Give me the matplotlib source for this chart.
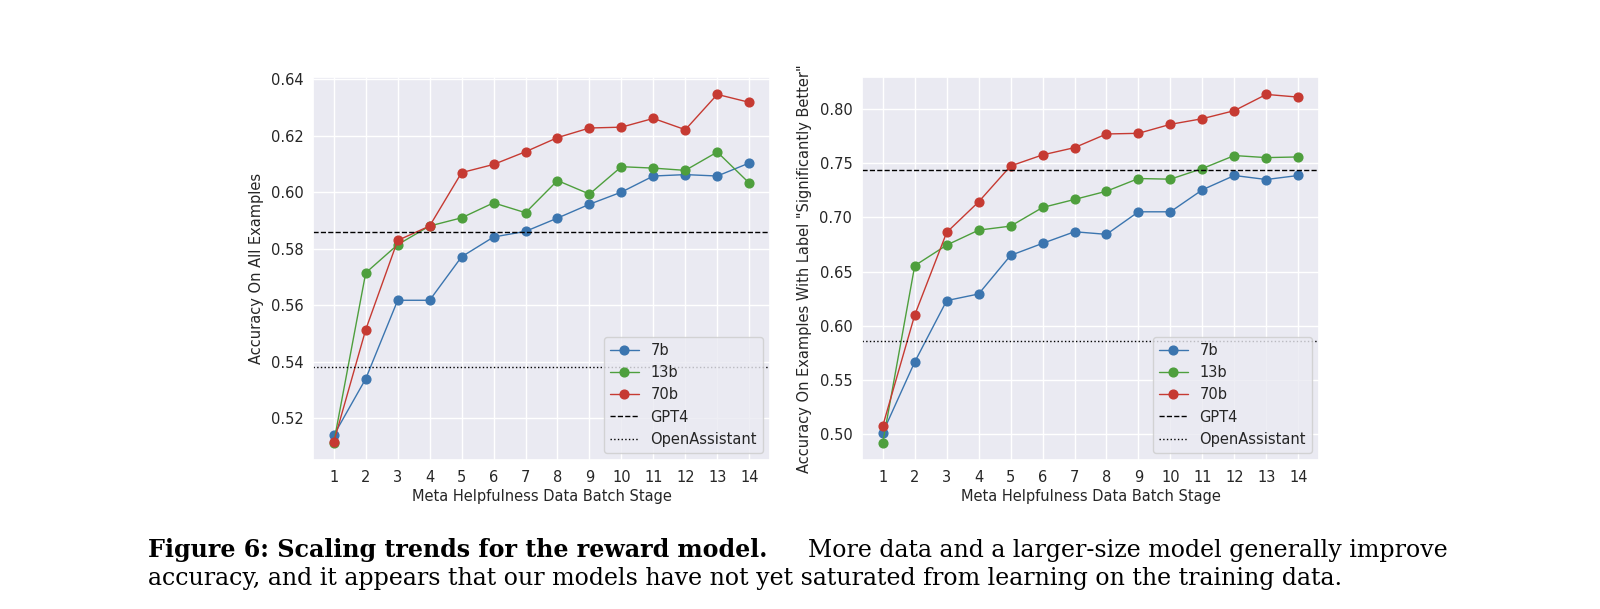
import matplotlib
matplotlib.use("Agg")
import matplotlib.pyplot as plt
import matplotlib.ticker as mticker
import seaborn as sns

stages = list(range(1, 15))

left_7b = [0.514, 0.534, 0.5618, 0.5618, 0.5772, 0.5842, 0.5862, 0.5909, 0.5958, 0.6001, 0.6058, 0.6063, 0.6058, 0.6104]
left_13b = [0.5114, 0.5715, 0.5815, 0.5881, 0.5910, 0.5963, 0.5928, 0.6042, 0.5994, 0.6091, 0.6086, 0.6078, 0.6143, 0.6033]
left_70b = [0.5116, 0.5514, 0.5830, 0.5881, 0.6070, 0.6099, 0.6144, 0.6194, 0.6228, 0.6231, 0.6262, 0.6222, 0.6347, 0.6319]
left_gpt4 = 0.586
left_oa = 0.5381

right_7b = [0.5015, 0.5667, 0.6233, 0.6294, 0.6650, 0.6761, 0.6868, 0.6844, 0.7052, 0.7052, 0.7255, 0.7387, 0.7350, 0.7387]
right_13b = [0.4923, 0.6555, 0.6745, 0.6883, 0.6920, 0.7092, 0.7166, 0.7242, 0.7359, 0.7353, 0.7451, 0.7571, 0.7552, 0.7558]
right_70b = [0.5077, 0.6100, 0.6862, 0.7144, 0.7475, 0.7577, 0.7644, 0.7770, 0.7776, 0.7859, 0.7911, 0.7985, 0.8135, 0.8110]
right_gpt4 = 0.7436
right_oa = 0.5864

series_names = ["7b", "13b", "70b"]
colors = ["#3b75af", "#4e9f3d", "#c63a32"]
xlabel = "Meta Helpfulness Data Batch Stage"
ylabels = ["Accuracy On All Examples", 'Accuracy On Examples With Label "Significantly Better"']
caption_bold = "Figure 6: Scaling trends for the reward model."
caption_rest1 = "More data and a larger-size model generally improve"
caption_line2 = "accuracy, and it appears that our models have not yet saturated from learning on the training data."

sns.set_theme(style="darkgrid")
plt.rcParams["font.family"] = "sans-serif"
plt.rcParams["font.sans-serif"] = ["DejaVu Sans"]

W, H = 1600, 609
fig = plt.figure(figsize=(W / 100, H / 100), dpi=100)
ax1 = fig.add_axes([313 / W, 1 - 460 / H, 457 / W, 383 / H])
ax2 = fig.add_axes([862 / W, 1 - 460 / H, 457 / W, 383 / H])

FS = 10.5
panels = [
    (ax1, [left_7b, left_13b, left_70b], left_gpt4, left_oa, ylabels[0]),
    (ax2, [right_7b, right_13b, right_70b], right_gpt4, right_oa, ylabels[1]),
]
for ax, ser, g4, oa, yl in panels:
    for vals, name, c in zip(ser, series_names, colors):
        ax.plot(stages, vals, marker="o", color=c, lw=1.0, markersize=6.3, label=name)
    ax.axhline(g4, color="black", ls="--", lw=1.0, label="GPT4")
    ax.axhline(oa, color="black", ls=":", lw=1.0, label="OpenAssistant")
    ax.set_xticks(stages)
    ax.tick_params(labelsize=FS, colors=".15", length=0, pad=7)
    ax.set_xlabel(xlabel, fontsize=FS, color=".15", labelpad=3)
    ax.set_ylabel(yl, fontsize=FS, color=".15", labelpad=5)
    ax.legend(loc="lower right", fontsize=FS)

ax2.yaxis.set_major_locator(mticker.MultipleLocator(0.05))
ax2.yaxis.set_major_formatter(mticker.FormatStrFormatter("%.2f"))

# caption
serif = ["DejaVu Serif"]
renderer = fig.canvas.get_renderer()
x0 = 148
tmp = fig.text(0, 0, caption_line2, fontsize=10, family=serif)
w10 = tmp.get_window_extent(renderer).width
tmp.remove()
cfs = 10 * (1349 - x0) / w10

fig.text(x0 / W, 1 - 556.5 / H, caption_bold, fontsize=cfs, fontweight="bold", family=serif,
         color="black", va="baseline", ha="left")
fig.text(1448 / W, 1 - 556.5 / H, caption_rest1, fontsize=cfs, family=serif,
         color="black", va="baseline", ha="right")
fig.text(x0 / W, 1 - 585 / H, caption_line2, fontsize=cfs, family=serif,
         color="black", va="baseline", ha="left")

fig.savefig("out.png", dpi=100, facecolor="white")
